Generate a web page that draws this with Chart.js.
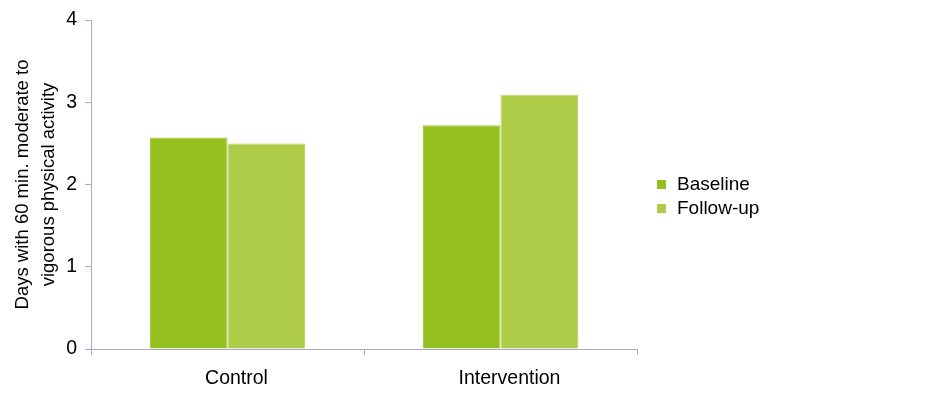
<!DOCTYPE html>
<html>
<head>
<meta charset="utf-8">
<script src="https://cdn.jsdelivr.net/npm/chart.js@4"></script>
<style>
  html, body { margin: 0; padding: 0; background: #fff; }
  #wrap { width: 948px; height: 400px; }
</style>
</head>
<body>
<div id="wrap"><canvas id="grafico"></canvas></div>
<script>
// data
const groups = ['Control', 'Intervention'];
const baseline = [2.57, 2.72];
const followUp = [2.50, 3.09];
const yTicks = [0, 1, 2, 3, 4];
const yTitle = ['Days with 60 min. moderate to', 'vigorous physical activity'];

const axisColor = '#a4abcf';
const fontBase = { family: '"Liberation Sans", Arial, sans-serif', size: 19.5 };

// small legend drawn next to the plot
const legendaLateral = {
  id: 'legendaLateral',
  afterDraw(chart) {
    const ctx = chart.ctx;
    const x = chart.chartArea.right + 20;
    const ys = [185, 209];
    ctx.save();
    ctx.font = '19px "Liberation Sans", Arial, sans-serif';
    ctx.textBaseline = 'middle';
    chart.data.datasets.forEach((ds, i) => {
      ctx.fillStyle = ds.backgroundColor;
      ctx.fillRect(x, ys[i] - 5, 9, 9);
      ctx.fillStyle = '#000';
      ctx.fillText(ds.label, x + 20, ys[i]);
    });
    ctx.restore();
  }
};

new Chart(document.getElementById('grafico'), {
  type: 'bar',
  data: {
    labels: groups,
    datasets: [
      { label: 'Baseline', data: baseline, backgroundColor: '#95c11f', borderColor: '#a3c936', borderWidth: 1 },
      { label: 'Follow-up', data: followUp, backgroundColor: '#afcc48', borderColor: '#bcd65c', borderWidth: 1 }
    ]
  },
  options: {
    responsive: true,
    maintainAspectRatio: false,
    animation: false,
    layout: { padding: { top: 20, right: 311, bottom: 0, left: 0 } },
    categoryPercentage: 0.568,
    barPercentage: 1.0,
    plugins: { legend: { display: false }, tooltip: { enabled: false } },
    scales: {
      x: {
        grid: { display: true, drawOnChartArea: false, offset: true, color: axisColor, tickLength: 6 },
        border: { color: axisColor, width: 1 },
        ticks: { color: '#000', font: fontBase, padding: 12, labelOffset: 9 },
        afterFit(s) { s.height = 51; }
      },
      y: {
        min: 0,
        max: 4,
        afterBuildTicks(s) { s.ticks = yTicks.map(v => ({ value: v })); },
        grid: { display: true, drawOnChartArea: false, color: axisColor, tickLength: 6 },
        border: { color: axisColor, width: 1 },
        ticks: { color: '#000', font: fontBase, padding: 8 },
        title: { display: true, text: yTitle, color: '#000', font: { ...fontBase, size: 18.5, lineHeight: 1.45 }, padding: { top: 9, bottom: 4 } },
        afterFit(s) { s.width = 91; }
      }
    }
  },
  plugins: [legendaLateral]
});
</script>
</body>
</html>
